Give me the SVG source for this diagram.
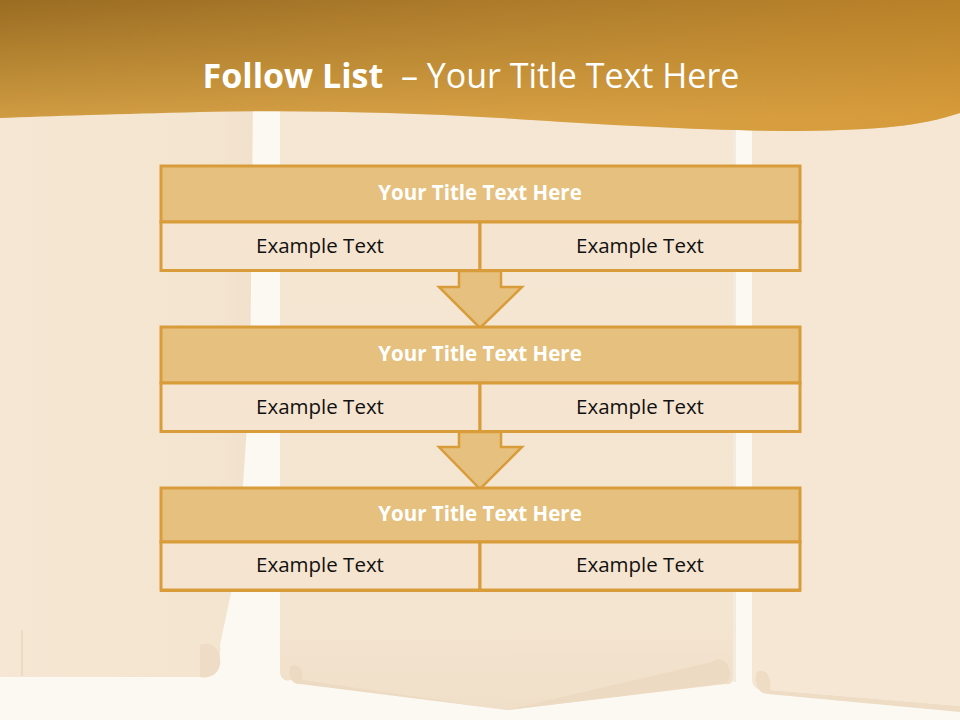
<svg xmlns="http://www.w3.org/2000/svg" width="960" height="720" viewBox="0 0 960 720">
  <defs>
    <linearGradient id="band" x1="0" y1="0" x2="0.15" y2="1">
      <stop offset="0" stop-color="#9a6c22"/>
      <stop offset="0.55" stop-color="#bb8a35"/>
      <stop offset="1" stop-color="#d8a247"/>
    </linearGradient>
    <linearGradient id="bandR" x1="0" y1="0" x2="1" y2="0">
      <stop offset="0" stop-color="#d9a650" stop-opacity="0"/>
      <stop offset="1" stop-color="#d4912a" stop-opacity="0.45"/>
    </linearGradient>
    <linearGradient id="leftScroll" x1="0" y1="0" x2="1" y2="0">
      <stop offset="0" stop-color="#f5e7d3"/>
      <stop offset="0.85" stop-color="#f4e5d0"/>
      <stop offset="1" stop-color="#f1e1cc"/>
    </linearGradient>
    <linearGradient id="midScroll" x1="0" y1="0" x2="0" y2="1">
      <stop offset="0" stop-color="#f5e7d3"/>
      <stop offset="0.85" stop-color="#f4e5d1"/>
      <stop offset="1" stop-color="#f0dfc8"/>
    </linearGradient>
    <style>
      .hdr { fill: #e6c07e; stroke: #d99c3b; stroke-width: 3; }
      .row { fill: #f5e4cf; stroke: #d99c3b; stroke-width: 3; }
      .arrow { fill: #e6c07e; stroke: #d99c3b; stroke-width: 2.5; stroke-linejoin: miter; }
      .htxt { font-family: "Open Sans", "Liberation Sans", sans-serif; font-weight: bold; font-size: 20.5px; fill: #ffffff; text-anchor: middle; }
      .etxt { font-family: "Open Sans", "Liberation Sans", sans-serif; font-size: 20.5px; fill: #111111; text-anchor: middle; }
      .scroll { stroke: none; }
    </style>
  </defs>

  <!-- background -->
  <rect x="0" y="0" width="960" height="720" fill="#fcf9f3"/>

  <!-- left scroll -->
  <path class="scroll" d="M0,100 L253,100 L250,380 L238,560 L220,645 C222,668 210,678 200,677 L0,677 Z" fill="url(#leftScroll)"/>
  <path d="M200,645 C212,640 222,650 220,665 C218,676 206,679 200,677 Z" fill="#efdcc6"/>
  <line x1="22" y1="630" x2="22" y2="676" stroke="#e8d6c0" stroke-width="1.5"/>

  <!-- middle scroll -->
  <path class="scroll" d="M280,100 L733,100 L733,678 C733,684 728,685 725,684 L507,710 L290,680 C285,682 280,678 280,672 Z" fill="url(#midScroll)"/>
  <path d="M290,667 C296,662 305,668 302,680 L507,710 L300,684 C292,685 288,676 290,667 Z" fill="#eddac2"/>
  <path d="M712,662 C718,656 728,660 730,672 C731,682 724,685 720,684 L507,710 Z" fill="#eddac2"/>

  <!-- right scroll -->
  <path class="scroll" d="M752,100 L960,100 L960,706 L770,690 C760,692 752,688 752,680 Z" fill="#f5e7d3"/>
  <path d="M757,672 C764,668 772,674 770,690 L960,706 L960,712 L768,694 C758,694 753,682 757,672 Z" fill="#eedcc5"/>

  <!-- subtle edges of white strips -->
  <rect x="733" y="112" width="3" height="570" fill="#ede1d0" opacity="0.6"/>

  <!-- title band -->
  <path d="M0,0 H960 V113 C920,126 880,130 800,131 C720,131 620,126 500,118 C400,112 300,110 200,112 C120,114 50,116 0,118 Z" fill="url(#band)"/>
  <path d="M0,0 H960 V113 C920,126 880,130 800,131 C720,131 620,126 500,118 C400,112 300,110 200,112 C120,114 50,116 0,118 Z" fill="url(#bandR)"/>

  <!-- title -->
  <text x="471" y="88" text-anchor="middle" font-family="Open Sans, Liberation Sans, sans-serif" font-size="34" fill="#ffffff" xml:space="preserve"><tspan font-weight="bold">Follow List</tspan>  – Your Title Text Here</text>

  <!-- connectors -->
  <g id="connectors">
    <path class="arrow" d="M459,271 L501,271 L501,287 L522,287 L480,328 L439,287 L459,287 Z"/>
    <path class="arrow" d="M459,432 L501,432 L501,447 L522,447 L480,489 L439,447 L459,447 Z"/>
  </g>

  <!-- node 1 -->
  <g id="node1">
    <rect class="hdr" x="161" y="166" width="639" height="56"/>
    <rect class="row" x="161" y="222" width="319" height="48.5"/>
    <rect class="row" x="480" y="222" width="320" height="48.5"/>
    <text class="htxt" x="480" y="200">Your Title Text Here</text>
    <text class="etxt" x="320" y="253">Example Text</text>
    <text class="etxt" x="640" y="253">Example Text</text>
  </g>

  <!-- node 2 -->
  <g id="node2">
    <rect class="hdr" x="161" y="327" width="639" height="56"/>
    <rect class="row" x="161" y="383" width="319" height="48.5"/>
    <rect class="row" x="480" y="383" width="320" height="48.5"/>
    <text class="htxt" x="480" y="361">Your Title Text Here</text>
    <text class="etxt" x="320" y="414">Example Text</text>
    <text class="etxt" x="640" y="414">Example Text</text>
  </g>

  <!-- node 3 -->
  <g id="node3">
    <rect class="hdr" x="161" y="488" width="639" height="54"/>
    <rect class="row" x="161" y="542" width="319" height="48"/>
    <rect class="row" x="480" y="542" width="320" height="48"/>
    <line x1="160" y1="591" x2="801" y2="591" stroke="#d99c3b" stroke-width="2"/>
    <text class="htxt" x="480" y="521">Your Title Text Here</text>
    <text class="etxt" x="320" y="572">Example Text</text>
    <text class="etxt" x="640" y="572">Example Text</text>
  </g>
</svg>
